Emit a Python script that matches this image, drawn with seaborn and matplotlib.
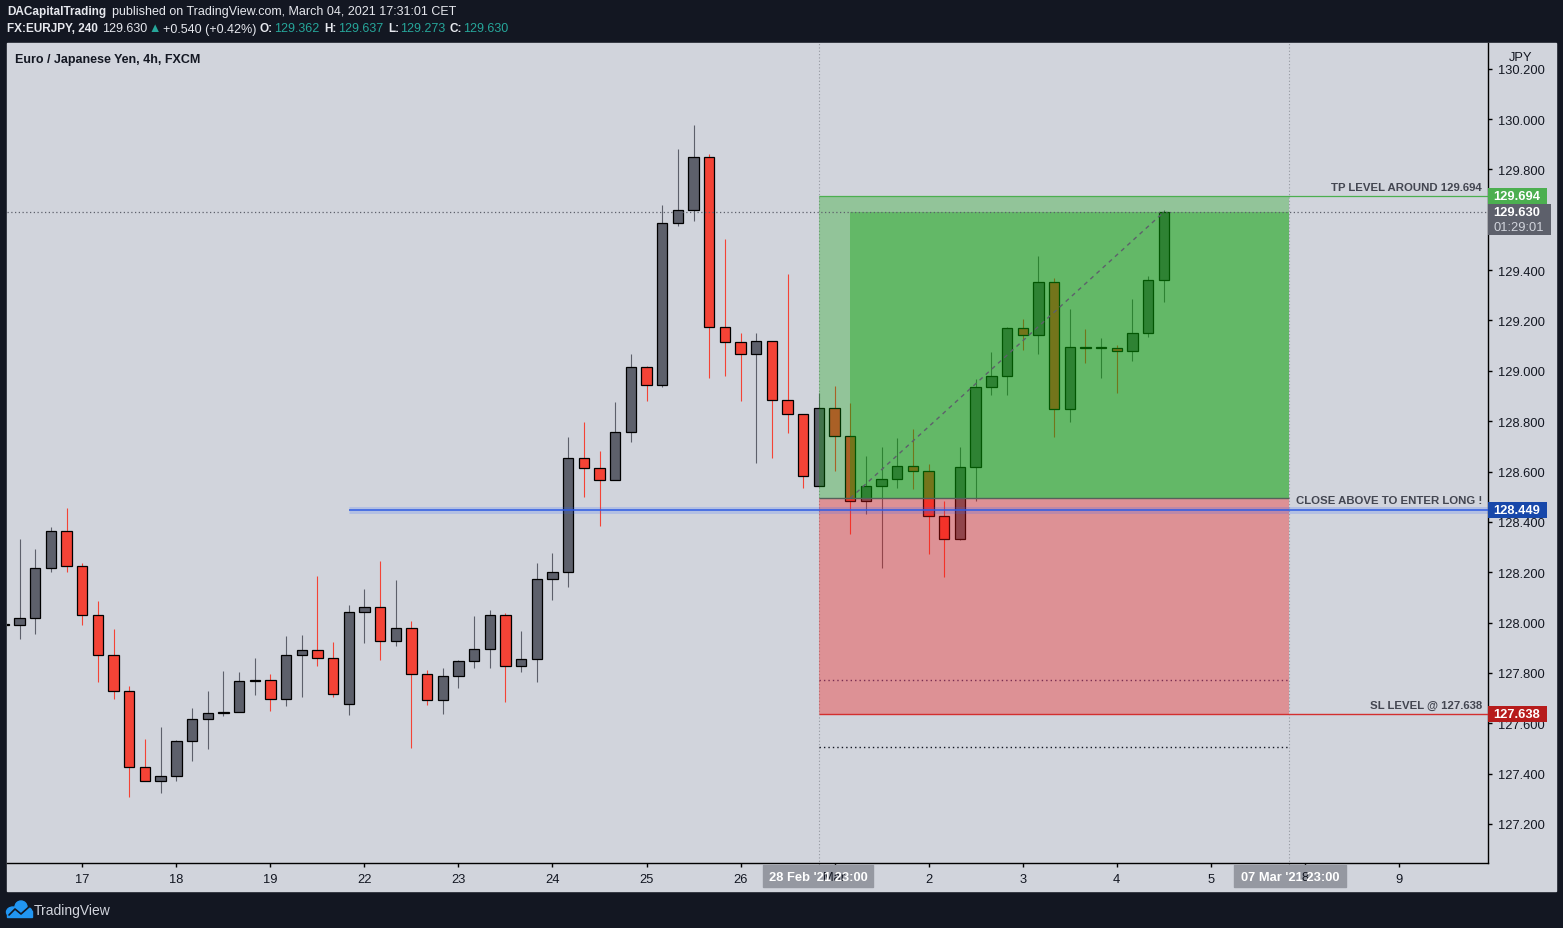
import numpy as np
import pandas as pd
import seaborn as sns
import matplotlib.pyplot as plt
from matplotlib.patches import Rectangle, Ellipse
from matplotlib import transforms

# 4h candles, bar 0 = 17 Feb 00:00
bar_index = list(range(-5, 70))
opens = [127.990, 127.989, 128.017, 128.216, 128.363, 128.224, 128.029, 127.870, 127.727, 127.425,
         127.370, 127.390, 127.529, 127.616, 127.640, 127.644, 127.767, 127.771, 127.695, 127.870,
         127.890, 127.858, 127.676, 128.041, 128.061, 127.926, 127.977, 127.795, 127.691, 127.787,
         127.846, 127.894, 128.029, 127.826, 127.854, 128.172, 128.200, 128.652, 128.613, 128.565,
         128.756, 129.014, 128.942, 129.586, 129.637, 129.848, 129.173, 129.113, 129.066, 129.117,
         128.883, 128.827, 128.541, 128.851, 128.740, 128.482, 128.541, 128.569, 128.621, 128.601,
         128.422, 128.331, 128.617, 128.934, 128.978, 129.169, 129.141, 129.351, 128.847, 129.093,
         129.090, 129.089, 129.077, 129.149, 129.362]
highs = [128.020, 128.332, 128.292, 128.380, 128.455, 128.237, 128.086, 127.975, 127.748, 127.538,
         127.585, 127.534, 127.661, 127.728, 127.808, 127.804, 127.859, 127.796, 127.947, 127.951,
         128.185, 127.923, 128.070, 128.133, 128.245, 128.169, 128.006, 127.812, 127.820, 127.851,
         128.026, 128.051, 128.038, 127.967, 128.237, 128.276, 128.737, 128.797, 128.681, 128.876,
         129.067, 129.019, 129.658, 129.881, 129.976, 129.861, 129.523, 129.150, 129.150, 129.117,
         129.384, 128.827, 128.911, 128.940, 128.872, 128.662, 128.697, 128.733, 128.769, 128.630,
         128.482, 128.697, 128.966, 129.075, 129.174, 129.206, 129.456, 129.367, 129.245, 129.166,
         129.130, 129.102, 129.285, 129.377, 129.637]
lows = [127.960, 127.936, 127.956, 128.202, 128.202, 127.992, 127.765, 127.698, 127.309, 127.370,
        127.324, 127.372, 127.452, 127.499, 127.630, 127.644, 127.714, 127.650, 127.670, 127.706,
        127.829, 127.706, 127.634, 127.920, 127.853, 127.908, 127.503, 127.674, 127.638, 127.741,
        127.821, 127.821, 127.686, 127.805, 127.765, 128.091, 128.143, 128.500, 128.385, 128.565,
        128.718, 128.881, 128.937, 129.576, 129.596, 128.973, 128.981, 128.881, 128.635, 128.655,
        128.754, 128.536, 128.541, 128.603, 128.353, 128.432, 128.218, 128.536, 128.532, 128.274,
        128.182, 128.327, 128.482, 128.905, 128.905, 129.084, 129.068, 128.738, 128.798, 129.032,
        128.973, 128.913, 129.040, 129.135, 129.273]
closes = [127.994, 128.017, 128.216, 128.363, 128.224, 128.029, 127.870, 127.727, 127.425, 127.370,
          127.390, 127.529, 127.616, 127.640, 127.644, 127.767, 127.770, 127.695, 127.870, 127.890,
          127.858, 127.715, 128.041, 128.061, 127.926, 127.977, 127.795, 127.691, 127.787, 127.846,
          127.894, 128.029, 127.826, 127.854, 128.172, 128.200, 128.652, 128.613, 128.565, 128.756,
          129.014, 128.942, 129.586, 129.637, 129.848, 129.173, 129.113, 129.066, 129.117, 128.883,
          128.827, 128.581, 128.851, 128.740, 128.482, 128.541, 128.569, 128.621, 128.601, 128.422,
          128.331, 128.617, 128.934, 128.978, 129.169, 129.141, 129.351, 128.847, 129.093, 129.090,
          129.091, 129.077, 129.149, 129.359, 129.630]

day_ticks = [0, 6, 12, 18, 24, 30, 36, 42, 48, 54, 60, 66, 72, 78, 84]
day_labels = ["17", "18", "19", "22", "23", "24", "25", "26", "", "2", "3", "4", "5", "", "9"]
price_ticks = [127.2, 127.4, 127.6, 127.8, 128.0, 128.2, 128.4, 128.6, 128.8, 129.0,
               129.2, 129.4, 129.6, 129.8, 130.0, 130.2]
hidden_ticks = [129.6]  # sits under the last-price label

tp_level = 129.694
entry_level = 128.494
sl_level = 127.638
signal_level = 128.449
last_price = 129.630
red_dot_level = 127.772
black_dot_level = 127.505
pos_start, pos_end, fill_start, signal_start = 47, 77, 49, 17

BG = "#D1D4DC"
DARK = "#131722"
GRAY = "#5D606B"
RED = "#F44336"

sns.set_style("ticks")
plt.rcParams['font.family'] = ['Liberation Sans', 'DejaVu Sans']

W, H = 1563, 929
fig = plt.figure(figsize=(W / 100, H / 100), dpi=100, facecolor=DARK)


def fx(x):
    return x / W


def fy(y):
    return 1 - y / H


fig.add_artist(Rectangle((fx(7), fy(892)), fx(1549), (892 - 44) / H, transform=fig.transFigure,
                         color=BG, zorder=0))

ax = fig.add_axes([fx(7), fy(864), 1481 / W, 820 / H])
ax.set_facecolor(BG)
xmin, xmax = -4.805, 89.69
ax.set_xlim(xmin, xmax)
ax.set_ylim(127.045, 130.302)

df = pd.DataFrame({"bar": bar_index, "open": opens, "high": highs, "low": lows, "close": closes})
df["up"] = df["close"] >= df["open"]
cols = np.where(df["up"], GRAY, RED)
body_lo = np.minimum(df["open"], df["close"])
body_h = np.maximum((df["close"] - df["open"]).abs(), 0.004)
ax.vlines(df["bar"], df["low"], df["high"], colors=cols, lw=0.8, zorder=2)
ax.bar(df["bar"], body_h, bottom=body_lo, width=0.66, color=cols, edgecolor="black",
       linewidth=0.9, zorder=3)

# long position tool
ax.add_patch(Rectangle((pos_start, entry_level), pos_end - pos_start, tp_level - entry_level,
                       color="#06A105", alpha=0.31, lw=0, zorder=4))
ax.add_patch(Rectangle((fill_start, entry_level), pos_end - fill_start, last_price - entry_level,
                       color="#06A105", alpha=0.333, lw=0, zorder=4))
ax.add_patch(Rectangle((pos_start, sl_level), pos_end - pos_start, entry_level - sl_level,
                       color="#F41411", alpha=0.35, lw=0, zorder=4))
ax.hlines(entry_level, pos_start, pos_end, color="#55615A", lw=1, zorder=5)
ax.hlines(red_dot_level, pos_start, pos_end, color="#7A2E52", lw=1, ls=(0, (1, 2.2)), zorder=5)
ax.hlines(black_dot_level, pos_start, pos_end, color="#131722", lw=1, ls=(0, (1, 2.2)), zorder=5)
sns.lineplot(x=[fill_start, df["bar"].iloc[-1]], y=[entry_level, last_price], ax=ax,
             color="#5D606B", lw=1, linestyle=(0, (3, 3)), zorder=6)

for v in (pos_start, pos_end):
    ax.axvline(v, ymin=-0.006, ymax=1, color="#9598A1", lw=0.8, ls=(0, (1, 2)), zorder=1,
               clip_on=False)

ax.hlines(signal_level, signal_start, xmax, color="#2962FF", lw=5, alpha=0.18, zorder=6)
ax.hlines(signal_level, signal_start, xmax, color="#2D5BE3", lw=1.1, zorder=6)
ax.axhline(last_price, color=GRAY, lw=0.9, ls=(0, (1, 2)), zorder=6)
ax.hlines(tp_level, pos_start, xmax, color="#4CAF50", lw=0.9, zorder=6)
ax.hlines(sl_level, pos_start, xmax, color="#D32F2F", lw=1, zorder=6)

blend = transforms.blended_transform_factory(ax.transAxes, ax.transData)
for lvl, txt in [(tp_level, "TP LEVEL AROUND 129.694"),
                 (signal_level, "CLOSE ABOVE TO ENTER LONG !"),
                 (sl_level, "SL LEVEL @ 127.638")]:
    ax.annotate(txt, xy=(1 - 6 / 1481, lvl), xycoords=blend, xytext=(0, 3),
                textcoords="offset points", ha="right", va="bottom", fontsize=8.2,
                fontweight="bold", color="#434651", zorder=7)

fig.text(fx(15), fy(60), "Euro / Japanese Yen, 4h, FXCM", fontsize=9, fontweight="bold",
         color=DARK, va="center", ha="left")

# axes styling
for s in ("top", "left"):
    ax.spines[s].set_visible(False)
for s in ("right", "bottom"):
    ax.spines[s].set_color("black")
    ax.spines[s].set_linewidth(1)
ax.yaxis.tick_right()
ax.set_yticks(price_ticks)
ax.set_yticklabels(["" if v in hidden_ticks else f"{v:.3f}" for v in price_ticks])
ax.set_xticks(day_ticks)
ax.set_xticklabels(day_labels)
ax.tick_params(axis="y", direction="out", length=3, width=1, colors="black", labelcolor=DARK,
               labelsize=9.3, pad=4)
ax.tick_params(axis="x", direction="out", length=3, width=1, colors="black", labelcolor=DARK,
               labelsize=9.3, pad=4.5)
ax.grid(False)

# price scale labels
ppx = 251.77


def price_box(price, text, color, top_px=8, bot_px=8, width_px=59, sub=None):
    ax.add_patch(Rectangle((1, price - bot_px / ppx), width_px / 1481, (top_px + bot_px) / ppx,
                           transform=blend, color=color, lw=0, zorder=10, clip_on=False))
    ax.text(1 + 29 / 1481, price, text, transform=blend, ha="center", va="center", color="white",
            fontsize=9.3, fontweight="bold", zorder=11, clip_on=False)
    if sub:
        ax.text(1 + 31 / 1481, price - 15 / ppx, sub, transform=blend, ha="center", va="center",
                color="#D1D4DC", fontsize=9.3, zorder=11, clip_on=False)


price_box(tp_level, "129.694", "#4CAF50")
price_box(last_price, "129.630", GRAY, top_px=8, bot_px=23, width_px=63, sub="01:29:01")
price_box(signal_level, "128.449", "#1848AA")
price_box(sl_level, "127.638", "#B71C1C")

fig.text(fx(1521), fy(58), "JPY", fontsize=9.3, color=DARK, ha="center", va="center",
         bbox=dict(facecolor=BG, edgecolor="none", pad=1.5))

# time scale labels for the position tool
for x0, x1, date_txt, hidden, hx in [(763, 873, "28 Feb '21 23:00", "Mar", 834),
                                      (1234, 1346, "07 Mar '21 23:00", "8", 1305)]:
    fig.add_artist(Rectangle((fx(x0), fy(888)), (x1 - x0) / W, 22 / H, transform=fig.transFigure,
                             color="#9598A1", zorder=5))
    fig.text(fx(hx), fy(878), hidden, fontsize=9.3, color=DARK, ha="center", va="center", zorder=6)
    fig.text(fx((x0 + x1) / 2), fy(878), date_txt, fontsize=9.3, color="white", fontweight="bold",
             ha="center", va="center", zorder=7)

# header
hdr = [(7, 12.5, "DACapitalTrading", "#E6E8EE", "bold"),
       (112, 12.5, "published on TradingView.com, March 04, 2021 17:31:01 CET", "#E6E8EE", "normal"),
       (7, 29.5, "FX:EURJPY, 240", "#E6E8EE", "bold"),
       (102, 29.5, "129.630", "#E6E8EE", "normal"),
       (148, 29.5, "▲", "#26A69A", "normal"),
       (163, 29.5, "+0.540 (+0.42%)", "#E6E8EE", "normal"),
       (260, 29.5, "O:", "#E6E8EE", "bold"),
       (274, 29.5, "129.362", "#26A69A", "normal"),
       (324, 29.5, "H:", "#E6E8EE", "bold"),
       (338, 29.5, "129.637", "#26A69A", "normal"),
       (388, 29.5, "L:", "#E6E8EE", "bold"),
       (400, 29.5, "129.273", "#26A69A", "normal"),
       (450, 29.5, "C:", "#E6E8EE", "bold"),
       (463, 29.5, "129.630", "#26A69A", "normal")]
for x, y, t, c, w in hdr:
    fig.text(fx(x), fy(y), t, fontsize=8.5 if w == "bold" else 9, color=c, fontweight=w,
             ha="left", va="center")

# footer logo
blue = "#2196F3"
for cx, cy, ew, eh in [(13, 913, 13, 10), (21, 908, 12, 12), (27, 913, 10, 9)]:
    fig.add_artist(Ellipse((fx(cx), fy(cy)), ew / W, eh / H, transform=fig.transFigure,
                           color=blue, zorder=2))
fig.add_artist(Rectangle((fx(7), fy(918)), 25 / W, 6 / H, transform=fig.transFigure,
                         color=blue, zorder=2))
fig.add_artist(plt.Line2D([fx(9), fx(15), fx(21), fx(30)], [fy(916), fy(910), fy(915), fy(907)],
                          transform=fig.transFigure, color=DARK, lw=1.2, zorder=3))
fig.text(fx(34), fy(911), "TradingView", fontsize=10, color="#D1D4DC", ha="left", va="center")

fig.savefig("out.png", dpi=100, facecolor=DARK)
